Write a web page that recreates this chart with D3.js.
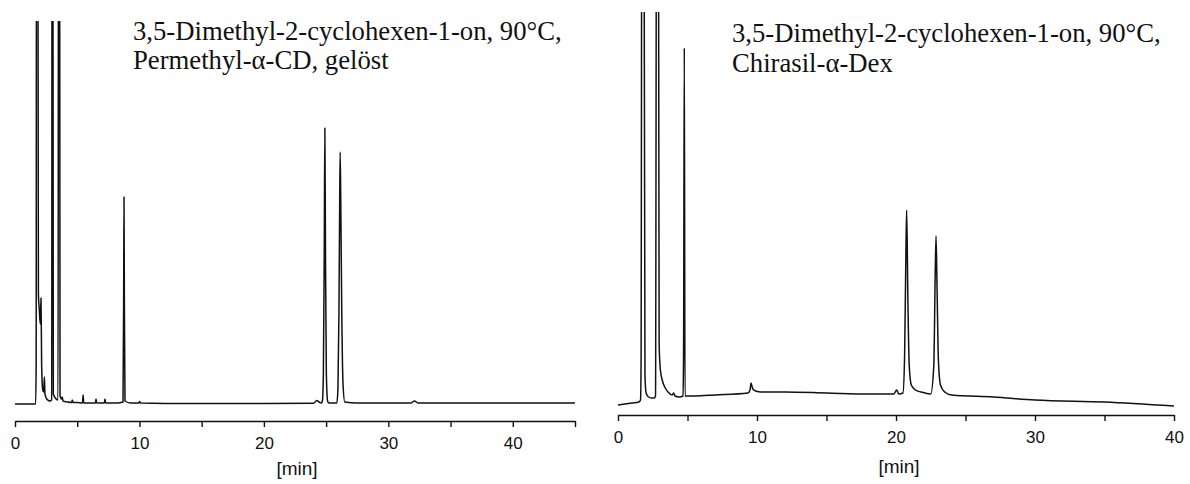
<!DOCTYPE html>
<html><head><meta charset="utf-8">
<script src="https://cdn.jsdelivr.net/npm/d3@7"></script>
<style>
html,body{margin:0;padding:0;background:#fff;}
svg{display:block;}
</style></head>
<body>
<svg id="chart" width="1190" height="484"></svg>
<script>
// ---------- data: [retention time in min, detector signal in arbitrary units] ----------
const leftTitle = ["3,5-Dimethyl-2-cyclohexen-1-on, 90°C,", "Permethyl-α-CD, gelöst"];
const rightTitle = ["3,5-Dimethyl-2-cyclohexen-1-on, 90°C,", "Chirasil-α-Dex"];
const axisLabel = "[min]";

const leftTicks = [0, 5, 10, 15, 20, 25, 30, 35, 40, 45];
const rightTicks = [0, 5, 10, 15, 20, 25, 30, 35, 40];
const tickLabels = [0, 10, 20, 30, 40];

const leftTrace = [
  [0, 0], [1.66, 0], [1.70, 40], [1.73, 600], [1.83, 600], [1.88, 110], [1.95, 95], [2.03, 80], [2.09, 106],
  [2.14, 40], [2.22, 15], [2.30, 12], [2.36, 27], [2.41, 10], [2.55, 5], [2.80, 3], [2.95, 4],
  [2.98, 600], [3.04, 600], [3.08, 10], [3.30, 5], [3.46, 4], [3.50, 600], [3.58, 600], [3.62, 8],
  [3.75, 5], [3.80, 7], [3.86, 3], [4.20, 2], [4.55, 1.5], [4.60, 4], [4.66, 1.5], [5.0, 1.5],
  [5.42, 1], [5.47, 9], [5.53, 1], [6.2, 1], [6.46, 1], [6.51, 5], [6.57, 1], [7.18, 1], [7.23, 5], [7.29, 1],
  [8.2, 1], [8.68, 2], [8.73, 100], [8.76, 207], [8.79, 100], [8.84, 3], [9.3, 1], [9.95, 1], [10.02, 2.5],
  [10.1, 1], [14, 0.5], [20, 0.5], [24.0, 0.8], [24.25, 3.5], [24.5, 1.5], [24.62, 1], [24.70, 3],
  [24.78, 30], [24.85, 150], [24.90, 276], [24.95, 150], [25.02, 30], [25.12, 3], [25.22, 1],
  [25.86, 1], [25.95, 15], [26.03, 90], [26.09, 200], [26.13, 252], [26.18, 200], [26.26, 90],
  [26.36, 20], [26.50, 2], [27.5, 1], [31.8, 1], [32.1, 3], [32.4, 1], [38, 1], [45, 1]
];

const rightTrace = [
  [0, 0], [0.5, 1], [1.0, 2], [1.5, 3], [1.62, 5], [1.66, 40], [1.72, 600], [1.86, 600], [1.94, 30],
  [2.02, 12], [2.2, 8], [2.4, 7], [2.6, 7], [2.70, 9], [2.78, 600], [2.90, 600], [2.96, 60],
  [3.05, 35], [3.2, 24], [3.4, 17], [3.6, 13], [3.9, 10], [4.0, 12], [4.1, 9], [4.4, 8], [4.68, 9],
  [4.72, 60], [4.77, 357], [4.82, 9], [4.95, 9], [5.5, 9], [7.0, 10], [9.35, 12], [9.50, 15], [9.57, 22],
  [9.7, 16], [9.9, 14], [10.3, 13], [12, 13], [15, 12], [18, 11], [19.85, 11], [20.05, 15], [20.2, 11],
  [20.5, 12], [20.62, 50], [20.72, 160], [20.77, 195], [20.85, 110], [20.95, 40], [21.1, 20], [21.4, 15],
  [21.8, 13], [22.5, 11], [22.72, 40], [22.82, 130], [22.88, 169], [22.95, 120], [23.05, 45], [23.2, 20],
  [23.5, 13], [24, 10], [27, 8], [30, 5], [35, 3], [40, -1]
];

// ---------- drawing ----------
const svg = d3.select("#chart");
const serif = "'Liberation Serif','Times New Roman',Times,serif";
const sans = "'Liberation Sans',Arial,Helvetica,sans-serif";

function panel(cfg) {
  const g = svg.append("g");
  const x = d3.scaleLinear().domain(cfg.domain).range(cfg.xRange);
  const y = d3.scaleLinear().domain([0, cfg.yMax]).range([cfg.base, cfg.top]);

  const clipId = "clip" + cfg.id;
  svg.append("defs").append("clipPath").attr("id", clipId)
    .append("rect").attr("x", cfg.xRange[0] - 5).attr("y", cfg.top)
    .attr("width", cfg.xRange[1] - cfg.xRange[0] + 10).attr("height", cfg.axisY - cfg.top);

  const line = d3.line().x(d => x(d[0])).y(d => y(d[1])).curve(d3.curveMonotoneX);
  g.append("path").datum(cfg.trace).attr("d", line)
    .attr("clip-path", `url(#${clipId})`)
    .attr("fill", "none").attr("stroke", "#111").attr("stroke-width", 1.5)
    .attr("stroke-linejoin", "round");

  const axis = d3.axisBottom(x).tickValues(cfg.ticks).tickSize(6).tickSizeOuter(0)
    .tickFormat(d => tickLabels.includes(d) ? String(d) : "");
  const ag = g.append("g").attr("transform", `translate(0,${cfg.axisY})`).call(axis);
  ag.select(".domain").attr("stroke", "#111").attr("stroke-width", 1.6);
  ag.selectAll(".tick line").attr("stroke", "#111").attr("stroke-width", 1.4);
  ag.selectAll(".tick text").attr("fill", "#111").attr("font-family", sans)
    .attr("font-size", 17).attr("dy", null).attr("y", cfg.labelDy);

  g.append("text").attr("x", cfg.unitX).attr("y", cfg.unitY).attr("text-anchor", "middle")
    .attr("font-family", sans).attr("font-size", 19).attr("fill", "#111").text(axisLabel);

  const tt = g.append("text").attr("font-family", serif).attr("font-size", cfg.titleSize).attr("fill", "#111");
  cfg.title.forEach((s, i) => {
    tt.append("tspan").attr("x", cfg.titleX).attr("y", cfg.titleY + i * cfg.titleLead).text(s);
  });
}

panel({
  id: "L", domain: [0, 45], xRange: [15, 575], yMax: 383, base: 404, top: 21, axisY: 421,
  trace: leftTrace, ticks: leftTicks, labelDy: 28,
  unitX: 297, unitY: 475, title: leftTitle, titleX: 133, titleY: 40, titleLead: 29, titleSize: 26.7
});
panel({
  id: "R", domain: [0, 40], xRange: [618, 1174], yMax: 393, base: 405, top: 12, axisY: 415,
  trace: rightTrace, ticks: rightTicks, labelDy: 28,
  unitX: 899, unitY: 473, title: rightTitle, titleX: 732, titleY: 42, titleLead: 30, titleSize: 26.7
});
</script>
</body></html>
